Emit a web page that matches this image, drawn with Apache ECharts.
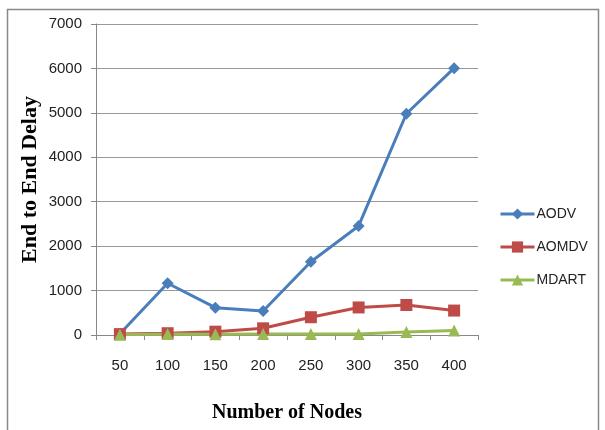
<!DOCTYPE html>
<html><head><meta charset="utf-8">
<script src="https://cdn.jsdelivr.net/npm/echarts@6/dist/echarts.min.js"></script>
<style>html,body{margin:0;padding:0;background:#fff}#c{width:605px;height:430px}</style>
</head><body><div id="c"></div>
<script>
var categories = ['50','100','150','200','250','300','350','400'];
var aodv = [30, 1165, 615, 540, 1650, 2455, 4980, 6005];
var aomdv = [20, 40, 75, 150, 400, 620, 675, 550];
var mdart = [5, 20, 15, 20, 25, 25, 70, 100];
var yTicks = [0, 1000, 2000, 3000, 4000, 5000, 6000, 7000];

var chart = echarts.init(document.getElementById('c'));
function s(name, data, color, symbol, size) {
  return {name: name, type: 'line', data: data, symbol: symbol, symbolSize: size,
    lineStyle: {color: color, width: 3}, itemStyle: {color: color}};
}
chart.setOption({
  animation: false,
  graphic: [{type: 'rect', shape: {x: 7.5, y: 9.5, width: 591, height: 425},
    style: {fill: 'none', stroke: '#888', lineWidth: 1.5}}],
  grid: {left: 96, right: 127, top: 24, bottom: 95},
  legend: {orient: 'vertical', left: 494, top: 202, itemGap: 19, itemWidth: 34, itemHeight: 14,
    lineStyle: {width: 3},
    textStyle: {fontFamily: 'Liberation Sans', fontSize: 14, color: '#222', padding: [0,0,0,-3]},
    data: ['AODV', 'AOMDV', 'MDART']},
  xAxis: {type: 'category', data: categories, boundaryGap: true,
    name: 'Number of Nodes', nameLocation: 'middle', nameGap: 68,
    nameTextStyle: {fontFamily: 'Liberation Serif', fontWeight: 'bold', fontSize: 20, color: '#000'},
    axisLine: {lineStyle: {color: '#888'}},
    axisTick: {show: true, length: 5, lineStyle: {color: '#888'}},
    axisLabel: {fontFamily: 'Liberation Sans', fontSize: 15, color: '#222', margin: 23}},
  yAxis: {type: 'value', min: 0, max: 7000, interval: 1000,
    name: 'End to End Delay', nameLocation: 'middle', nameGap: 55, nameMoveOverlap: false,
    nameTextStyle: {fontFamily: 'Liberation Serif', fontWeight: 'bold', fontSize: 22, color: '#000'},
    axisLine: {show: true, lineStyle: {color: '#888'}},
    axisTick: {show: true, length: 5, lineStyle: {color: '#888'}},
    splitLine: {lineStyle: {color: '#999'}},
    axisLabel: {fontFamily: 'Liberation Sans', fontSize: 15, color: '#222', margin: 14,
      formatter: function(v){ return yTicks.indexOf(v) >= 0 ? String(v) : ''; }}},
  series: [
    s('AODV', aodv, '#4a7ebb', 'diamond', 12),
    s('AOMDV', aomdv, '#be4b48', 'rect', 12),
    s('MDART', mdart, '#98b954', 'triangle', 12)
  ]
});
</script></body></html>
